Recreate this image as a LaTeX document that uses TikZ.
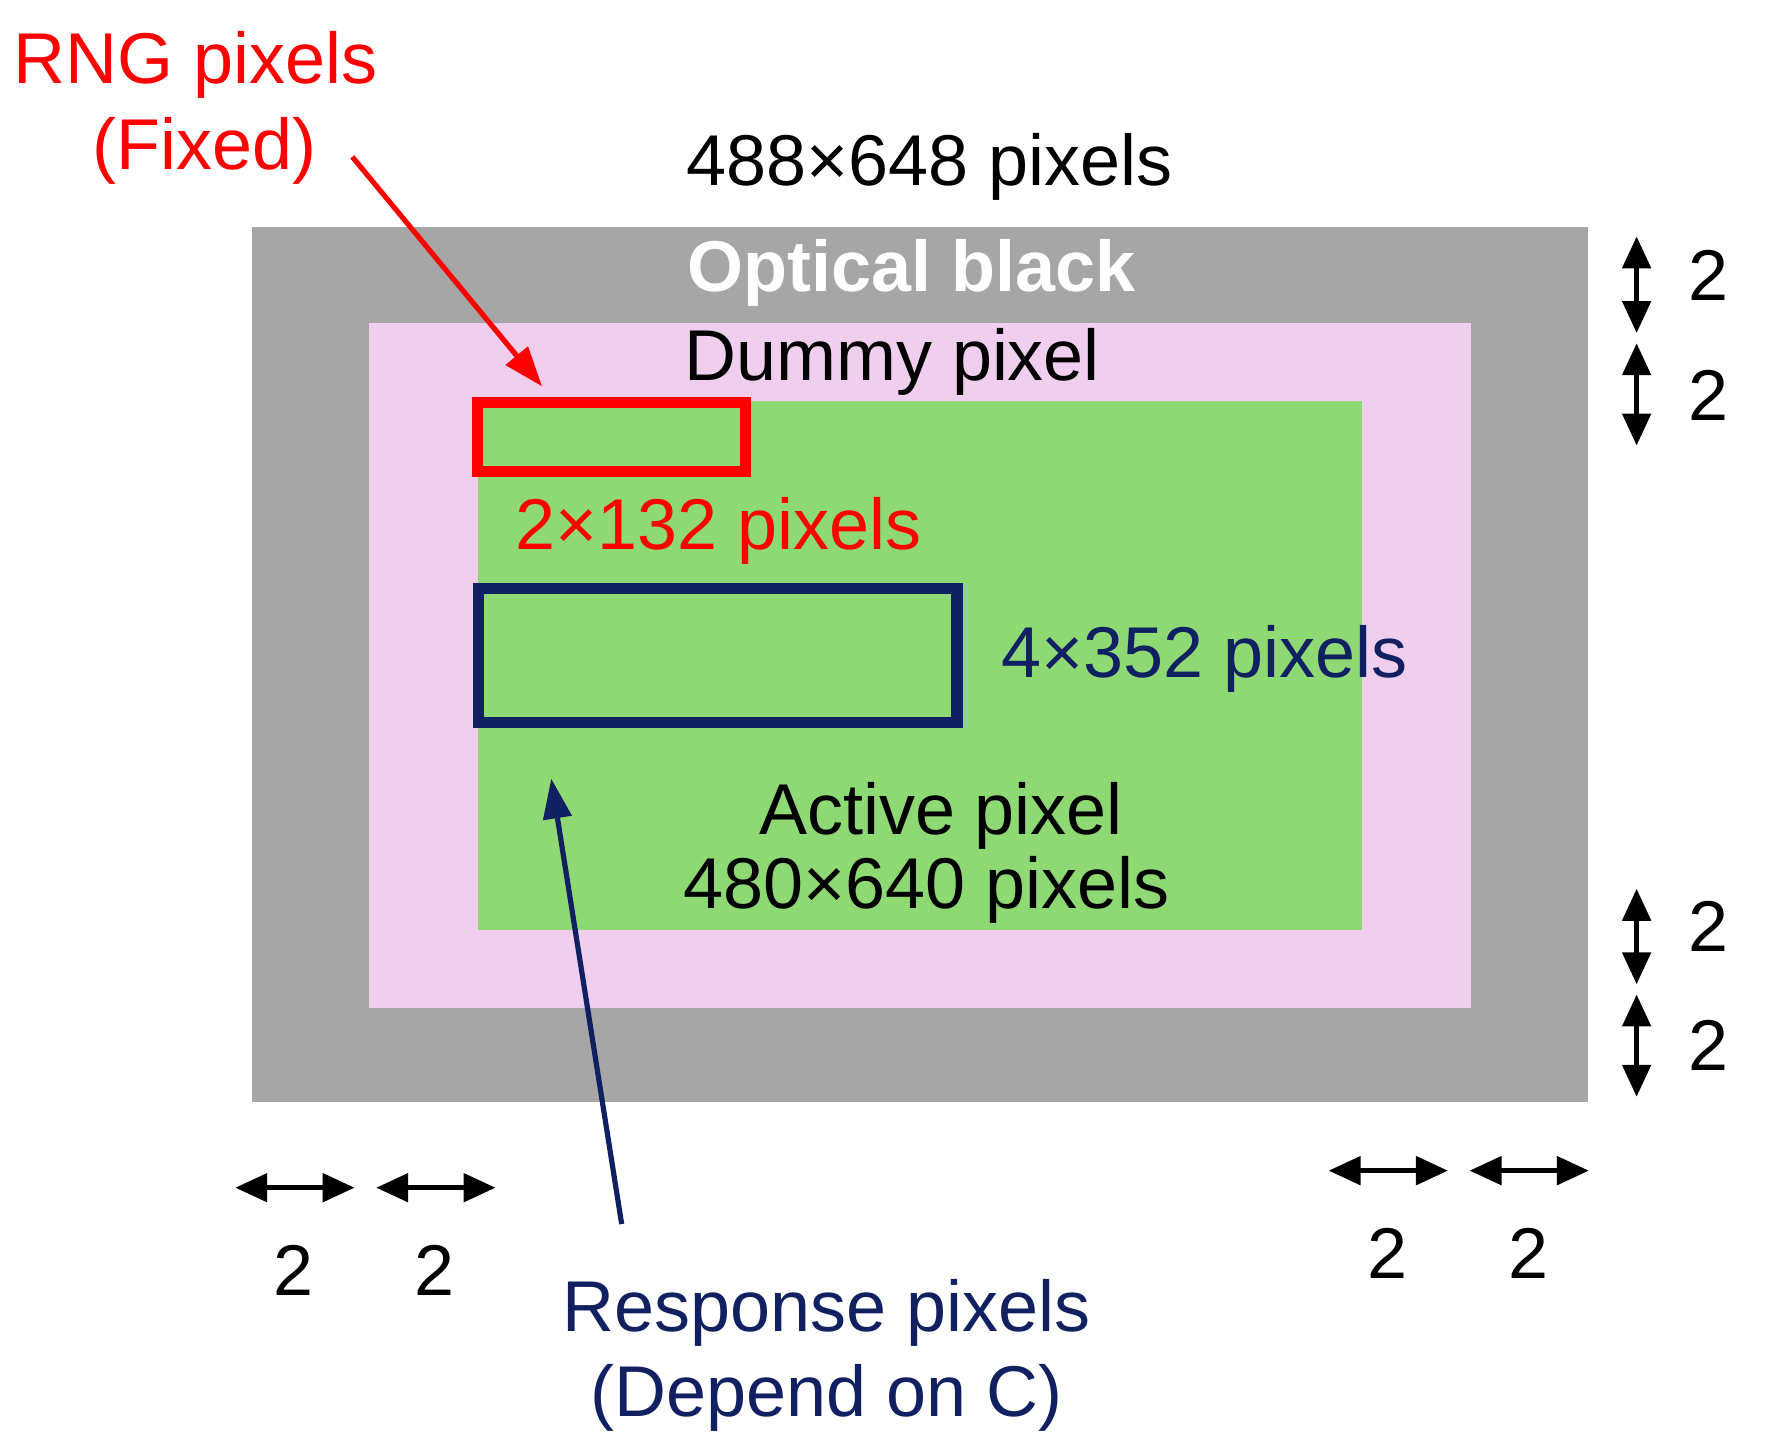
\documentclass[tikz,border=0pt]{standalone}
\usepackage{fontspec}
\setmainfont{Liberation Sans}
\usetikzlibrary{arrows.meta}
\definecolor{ob}{RGB}{166,166,166}
\definecolor{dm}{RGB}{240,206,238}
\definecolor{ac}{RGB}{143,217,117}
\definecolor{nv}{RGB}{16,32,96}
\definecolor{rd}{RGB}{255,0,0}
\tikzset{
 lbl/.style={font=\fontsize{18}{20}\selectfont, inner sep=0pt},
 dim/.style={line width=1.3pt,{Triangle[width=7pt,length=8pt]}-{Triangle[width=7pt,length=8pt]}},
 ptr/.style={line width=1.3pt,-{Triangle[width=7pt,length=10pt]}}
}
\begin{document}
\begin{tikzpicture}[x=0.01cm,y=-0.01cm]
\useasboundingbox (0,0) rectangle (1560,1278);
\fill[ob] (222,200) rectangle (1397,970);
\fill[dm] (325,284) rectangle (1294,887);
\fill[ac] (421,353) rectangle (1198,818);
\draw[rd,line width=2.8pt] (420,354) rectangle (656,415);
\draw[nv,line width=2.8pt] (421,518) rectangle (842,636);
\node[lbl,white,font=\fontsize{18}{20}\selectfont\bfseries] (ob) at (802,240) {Optical black};
\node[lbl] (dp) at (785,318) {Dummy pixel};
\node[lbl,rd] (rl) at (632,467) {2×132 pixels};
\node[lbl,nv] (nl) at (1060,580) {4×352 pixels};
\node[lbl] (ap) at (828,718) {Active pixel};
\node[lbl] (ap2) at (815,783) {480×640 pixels};
\node[lbl] (tot) at (818,147) {488×648 pixels};
\node[lbl,rd] (rng1) at (172,57) {RNG pixels};
\node[lbl,rd] (rng2) at (180,133) {(Fixed)};
\node[lbl,nv] (rp1) at (727,1155) {Response pixels};
\node[lbl,nv] (rp2) at (727,1230) {(Depend on C)};
\coordinate (ra0) at (310,138); \coordinate (ra1) at (477,340);
\draw[ptr,rd] (ra0) -- (ra1);
\coordinate (na0) at (547,1077); \coordinate (na1) at (485,685);
\draw[ptr,nv] (na0) -- (na1);
\foreach \a/\b/\l in {208/293/242,302/392/348,782/866/815,875/965/920}{
 \draw[dim] (1440,\a) -- (1440,\b);
 \node[lbl] at (1503,\l) {2};}
\foreach \a/\b/\l in {207/312/258,331/436/382}{
 \draw[dim] (\a,1045) -- (\b,1045);
 \node[lbl] at (\l,1118) {2};}
\foreach \a/\b/\l in {1169/1274/1221,1293/1398/1345}{
 \draw[dim] (\a,1030) -- (\b,1030);
 \node[lbl] at (\l,1103) {2};}
\end{tikzpicture}
\end{document}
